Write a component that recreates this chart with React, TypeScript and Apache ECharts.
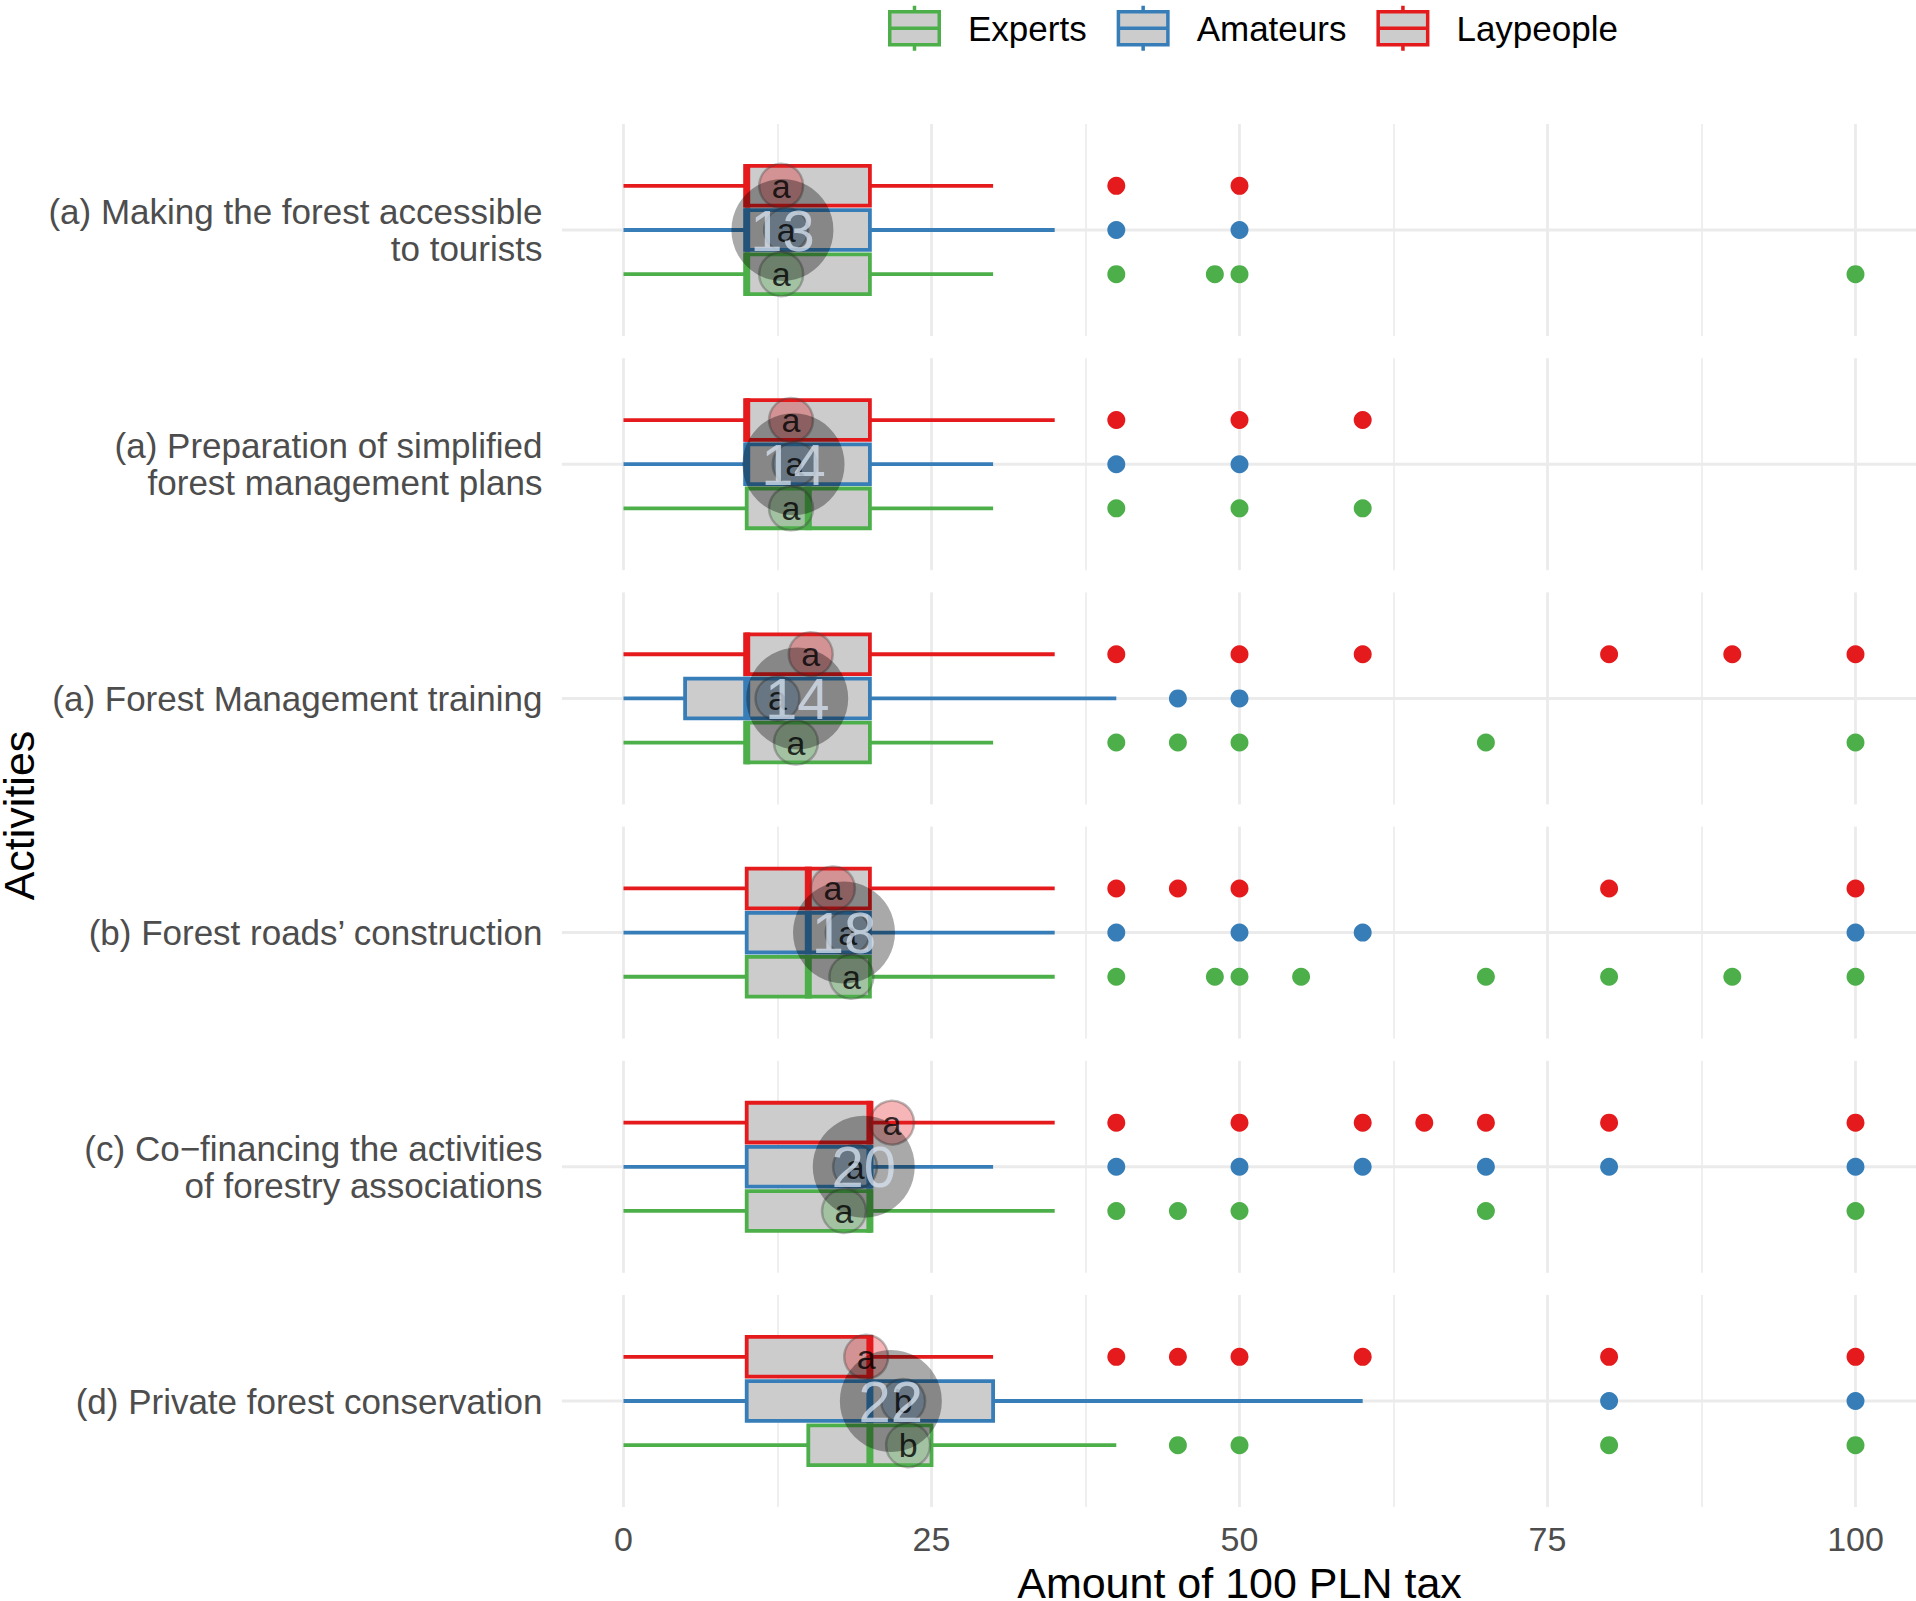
import React, { useEffect, useRef } from "react";
import * as echarts from "echarts";

const FONT = '"Liberation Sans", Arial, Helvetica, sans-serif';

// ---------------- data ----------------
const activities = [
  "(a) Making the forest accessible\nto tourists",
  "(a) Preparation of simplified\nforest management plans",
  "(a) Forest Management training",
  "(b) Forest roads\u2019 construction",
  "(c) Co\u2212financing the activities\nof forestry associations",
  "(d) Private forest conservation",
];

const groups = ["Experts", "Amateurs", "Laypeople"];
const groupColors = ["#4DAF4A", "#377EB8", "#E41A1C"];
const groupFills = ["rgba(77,175,74,0.4)", "rgba(55,126,184,0.4)", "rgba(228,26,28,0.4)"];

// box statistics [min, q1, median, q3, max] per activity
const expertsBox = [
  [0, 10, 10, 20, 30],
  [0, 10, 15, 20, 30],
  [0, 10, 10, 20, 30],
  [0, 10, 15, 20, 35],
  [0, 10, 20, 20, 35],
  [0, 15, 20, 25, 40],
];
const amateursBox = [
  [0, 10, 10, 20, 35],
  [0, 10, 10, 20, 30],
  [0, 5, 10, 20, 40],
  [0, 10, 15, 20, 35],
  [0, 10, 20, 20, 30],
  [0, 10, 20, 30, 60],
];
const laypeopleBox = [
  [0, 10, 10, 20, 30],
  [0, 10, 10, 20, 35],
  [0, 10, 10, 20, 35],
  [0, 10, 15, 20, 35],
  [0, 10, 20, 20, 35],
  [0, 10, 20, 20, 30],
];

// outliers per activity
const expertsOut = [
  [40, 48, 50, 100],
  [40, 50, 60],
  [40, 45, 50, 70, 100],
  [40, 48, 50, 55, 70, 80, 90, 100],
  [40, 45, 50, 70, 100],
  [45, 50, 80, 100],
];
const amateursOut = [
  [40, 50],
  [40, 50],
  [45, 50],
  [40, 50, 60, 100],
  [40, 50, 60, 70, 80, 100],
  [80, 100],
];
const laypeopleOut = [
  [40, 50],
  [40, 50, 60],
  [40, 50, 60, 80, 90, 100],
  [40, 45, 50, 80, 100],
  [40, 50, 60, 65, 70, 80, 100],
  [40, 45, 50, 60, 80, 100],
];

// group means and significance letters
const expertsMean = [12.8, 13.6, 14.0, 18.5, 17.9, 23.1];
const amateursMean = [13.2, 13.9, 12.5, 18.2, 18.8, 22.7];
const laypeopleMean = [12.8, 13.6, 15.2, 17.0, 21.8, 19.7];
const expertsLetter = ["a", "a", "a", "a", "a", "b"];
const amateursLetter = ["a", "a", "a", "a", "a", "b"];
const laypeopleLetter = ["a", "a", "a", "a", "a", "a"];

// overall mean per activity
const overallMean = [12.9, 13.8, 14.1, 17.9, 19.5, 21.7];

const xTicks = { min: 0, max: 100, interval: 25 };

// ---------------- layout ----------------
const GRID_LEFT = 623.5;
const GRID_WIDTH = 1232;
const GRID_TOP0 = 124;
const GRID_PITCH = 234.2;
const GRID_HEIGHT = 212;
const DODGE = [-0.25, 0, 0.25]; // Experts, Amateurs, Laypeople
const BOX_HALF = 0.1125;

const boxes = [expertsBox, amateursBox, laypeopleBox];
const outs = [expertsOut, amateursOut, laypeopleOut];
const means = [expertsMean, amateursMean, laypeopleMean];
const letters = [expertsLetter, amateursLetter, laypeopleLetter];

function buildOption() {
  const grid: any[] = [];
  const xAxis: any[] = [];
  const yAxis: any[] = [];
  const series: any[] = [];
  const n = activities.length;

  activities.forEach((act, i) => {
    const last = i === n - 1;
    grid.push({
      left: GRID_LEFT,
      width: GRID_WIDTH,
      top: GRID_TOP0 + i * GRID_PITCH,
      height: GRID_HEIGHT,
      containLabel: false,
      outerBoundsMode: "none",
    });
    xAxis.push({
      type: "value",
      gridIndex: i,
      min: xTicks.min,
      max: xTicks.max,
      interval: xTicks.interval,
      axisLine: { show: false },
      axisTick: { show: false },
      axisLabel: {
        show: last,
        fontSize: 34,
        color: "#4D4D4D",
        margin: 15,
        fontFamily: FONT,
      },
      splitLine: { show: true, lineStyle: { color: "#EBEBEB", width: 2.8 } },
      minorTick: { show: false, splitNumber: 2 },
      minorSplitLine: { show: true, lineStyle: { color: "#EBEBEB", width: 1.6 } },
      name: last ? "Amount of 100 PLN tax" : "",
      nameLocation: "middle",
      nameGap: 54,
      nameTextStyle: { fontSize: 43, color: "#000", fontFamily: FONT },
    });
    yAxis.push({
      type: "value",
      gridIndex: i,
      min: -0.6,
      max: 0.6,
      interval: 0.6,
      axisLine: { show: false },
      axisTick: { show: false },
      splitLine: { show: false },
      axisLabel: {
        formatter: (v: number) => (Math.abs(v) < 1e-9 ? act : ""),
        fontSize: 35,
        lineHeight: 37,
        color: "#4D4D4D",
        margin: 81,
        align: "right",
        fontFamily: FONT,
      },
    });

    // horizontal centre gridline spanning the expanded panel
    series.push({
      type: "custom",
      name: "grid",
      xAxisIndex: i,
      yAxisIndex: i,
      silent: true,
      z: 1,
      clip: false,
      encode: { x: [0, 1], y: 2 },
      data: [[-5, 105, 0]],
      renderItem: (_p: any, api: any) => {
        const a = api.coord([api.value(0), api.value(2)]);
        const b = api.coord([api.value(1), api.value(2)]);
        return {
          type: "line",
          shape: { x1: a[0], y1: a[1], x2: b[0], y2: b[1] },
          style: { stroke: "#EBEBEB", lineWidth: 3 },
        };
      },
    });

    groups.forEach((g, gi) => {
      const color = groupColors[gi];
      const dodge = DODGE[gi];
      // box
      series.push({
        type: "custom",
        name: g,
        xAxisIndex: i,
        yAxisIndex: i,
        z: 2,
        clip: false,
        encode: { x: [0, 1, 2, 3, 4], y: 5 },
        data: [[...boxes[gi][i], dodge]],
        renderItem: (_p: any, api: any) => {
          const y = api.value(5);
          const xs = [0, 1, 2, 3, 4].map((k) => api.coord([api.value(k), y])[0]);
          const cy = api.coord([0, y])[1];
          const top = api.coord([0, y + BOX_HALF])[1];
          const bot = api.coord([0, y - BOX_HALF])[1];
          return {
            type: "group",
            children: [
              {
                type: "line",
                shape: { x1: xs[0], y1: cy, x2: xs[1], y2: cy },
                style: { stroke: color, lineWidth: 3.8 },
              },
              {
                type: "line",
                shape: { x1: xs[3], y1: cy, x2: xs[4], y2: cy },
                style: { stroke: color, lineWidth: 3.8 },
              },
              {
                type: "rect",
                shape: { x: xs[1], y: top, width: xs[3] - xs[1], height: bot - top },
                style: { fill: "#CCCCCC", stroke: color, lineWidth: 3.8 },
              },
              {
                type: "line",
                shape: { x1: xs[2], y1: top - 1.9, x2: xs[2], y2: bot + 1.9 },
                style: { stroke: color, lineWidth: 7 },
              },
            ],
          };
        },
      });
      // outliers
      series.push({
        type: "scatter",
        name: g,
        xAxisIndex: i,
        yAxisIndex: i,
        z: 2,
        clip: false,
        symbol: "circle",
        symbolSize: 18,
        itemStyle: { color, opacity: 1 },
        data: outs[gi][i].map((v) => [v, dodge]),
      });
      // group mean with letter
      series.push({
        type: "scatter",
        name: g,
        xAxisIndex: i,
        yAxisIndex: i,
        z: 3,
        clip: false,
        symbol: "circle",
        symbolSize: 44,
        itemStyle: {
          color: groupFills[gi],
          borderColor: "rgba(70,70,70,0.45)",
          borderWidth: 2.5,
        },
        label: {
          show: true,
          position: "inside",
          formatter: (p: any) => p.data.letter,
          color: "#000",
          fontSize: 34,
          fontFamily: FONT,
        },
        data: [{ value: [means[gi][i], dodge], letter: letters[gi][i] }],
      });
    });

    // overall mean
    series.push({
      type: "scatter",
      name: "Overall mean",
      xAxisIndex: i,
      yAxisIndex: i,
      z: 4,
      clip: false,
      symbol: "circle",
      symbolSize: 102,
      itemStyle: { color: "rgba(0,0,0,0.42)" },
      label: {
        show: true,
        position: "inside",
        formatter: (p: any) => String(Math.round(p.value[0])),
        color: "rgba(214,226,240,0.95)",
        fontSize: 58,
        fontFamily: FONT,
      },
      data: [[overallMean[i], 0]],
    });
  });

  const iconPath =
    "path://M26.5,0V6M1.75,6H51.25V39H1.75ZM1.75,22.5H51.25M26.5,39V45";

  return {
    animation: false,
    backgroundColor: "#FFFFFF",
    textStyle: { fontFamily: FONT },
    grid,
    xAxis,
    yAxis,
    series,
    legend: {
      left: 888,
      top: 4,
      padding: 0,
      itemWidth: 53,
      itemHeight: 45,
      itemGap: 30,
      selectedMode: false,
      textStyle: { fontSize: 35, color: "#000", fontFamily: FONT, padding: [0, 0, 0, 22] },
      data: groups.map((g, gi) => ({
        name: g,
        icon: iconPath,
        itemStyle: { color: "#CCCCCC", borderColor: groupColors[gi], borderWidth: 3.5 },
      })),
    },
    graphic: [
      {
        type: "text",
        x: 19,
        y: GRID_TOP0 + ((n - 1) * GRID_PITCH + GRID_HEIGHT) / 2,
        rotation: Math.PI / 2,
        style: {
          text: "Activities",
          fontSize: 43,
          fill: "#000",
          fontFamily: FONT,
          align: "center",
          verticalAlign: "middle",
        },
      },
    ],
  };
}

export default function App() {
  const ref = useRef<HTMLDivElement>(null);
  useEffect(() => {
    if (!ref.current) return;
    const chart = echarts.init(ref.current, undefined, { renderer: "svg" });
    chart.setOption(buildOption() as any);
    return () => chart.dispose();
  }, []);
  return (
    <div
      ref={ref}
      style={{ position: "absolute", left: 0, top: 0, width: 1916, height: 1601, background: "#fff" }}
    />
  );
}
